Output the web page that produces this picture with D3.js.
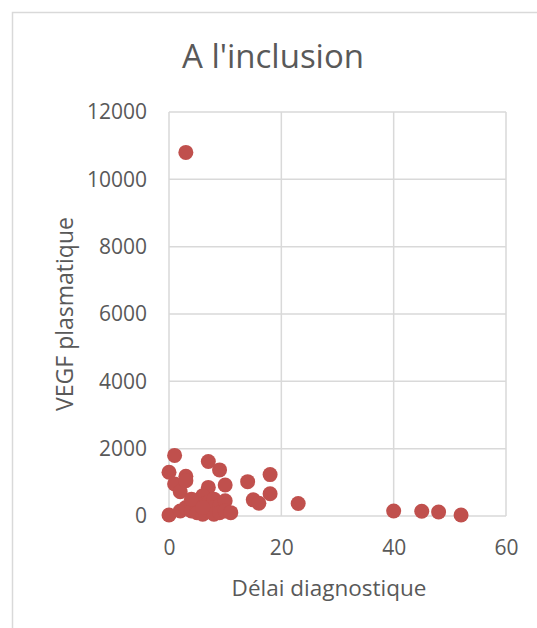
<!DOCTYPE html>
<html><head><meta charset="utf-8">
<script src="https://cdn.jsdelivr.net/npm/d3@7"></script>
<style>body{margin:0;background:#fff}svg{display:block}</style>
</head><body>
<script>
const title = "A l'inclusion";
const xLabel = "Délai diagnostique";
const yLabel = "VEGF plasmatique";
const xTicks = [0, 20, 40, 60];
const yTicks = [0, 2000, 4000, 6000, 8000, 10000, 12000];
const delai = [3, 0, 0, 1, 1, 2, 3, 3, 7, 9, 10, 7, 14, 18, 18, 15, 16, 23, 40, 45, 48, 52,
  2, 3, 4, 4, 5, 5, 5, 6, 6, 6, 7, 7, 8, 8, 8, 9, 9, 10, 10, 11, 4, 6];
const vegf = [10800, 1300, 30, 1800, 950, 720, 1180, 1050, 1620, 1370, 920, 850, 1020, 1230, 660, 480, 380, 370, 150, 140, 120, 30,
  150, 250, 350, 150, 450, 250, 100, 600, 350, 50, 400, 150, 500, 250, 50, 300, 100, 450, 150, 100, 500, 250];

const W = 537, H = 628;
const svg = d3.select("body").append("svg").attr("width", W).attr("height", H);
const font = "'Open Sans', sans-serif";
svg.append("rect").attr("x", 12.5).attr("y", 12.5).attr("width", W).attr("height", H)
  .attr("fill", "#fff").attr("stroke", "#d9d9d9").attr("stroke-width", 1.5);

const x = d3.scaleLinear().domain([0, 60]).range([169, 506]);
const y = d3.scaleLinear().domain([0, 12000]).range([516, 112]);

const grid = svg.append("g");
grid.selectAll(".gy").data(yTicks).join("line")
  .attr("x1", x(0)).attr("x2", x(60)).attr("y1", d => y(d)).attr("y2", d => y(d))
  .attr("stroke", "#d9d9d9").attr("stroke-width", 1.5);
grid.selectAll(".gx").data(xTicks).join("line")
  .attr("y1", y(0)).attr("y2", y(12000)).attr("x1", d => x(d)).attr("x2", d => x(d))
  .attr("stroke", "#d9d9d9").attr("stroke-width", 1.5);

const yAxis = svg.append("g").attr("transform", `translate(${x(0)},0)`)
  .call(d3.axisLeft(y).tickValues(yTicks).tickSize(0).tickPadding(22).tickFormat(d3.format("d")));
yAxis.select(".domain").remove();
yAxis.selectAll("text").attr("font-family", font).attr("font-size", 21).attr("fill", "#595959");

const xAxis = svg.append("g").attr("transform", `translate(0,${y(0)})`)
  .call(d3.axisBottom(x).tickValues(xTicks).tickSize(0).tickPadding(24).tickFormat(d3.format("d")));
xAxis.select(".domain").remove();
xAxis.selectAll("text").attr("font-family", font).attr("font-size", 21).attr("fill", "#595959");

svg.append("g").selectAll("circle").data(delai.map((d, i) => [d, vegf[i]])).join("circle")
  .attr("cx", d => x(d[0])).attr("cy", d => y(d[1])).attr("r", 7.5).attr("fill", "#c0504d");

svg.append("text").attr("x", 273).attr("y", 68).attr("text-anchor", "middle")
  .attr("font-family", font).attr("font-size", 33).attr("fill", "#595959").text(title);
svg.append("text").attr("x", 329).attr("y", 596).attr("text-anchor", "middle")
  .attr("font-family", font).attr("font-size", 22.5).attr("fill", "#595959").text(xLabel);
svg.append("text").attr("transform", "translate(73,314) rotate(-90)").attr("text-anchor", "middle")
  .attr("font-family", font).attr("font-size", 23).attr("fill", "#595959").text(yLabel);
</script>
</body></html>
